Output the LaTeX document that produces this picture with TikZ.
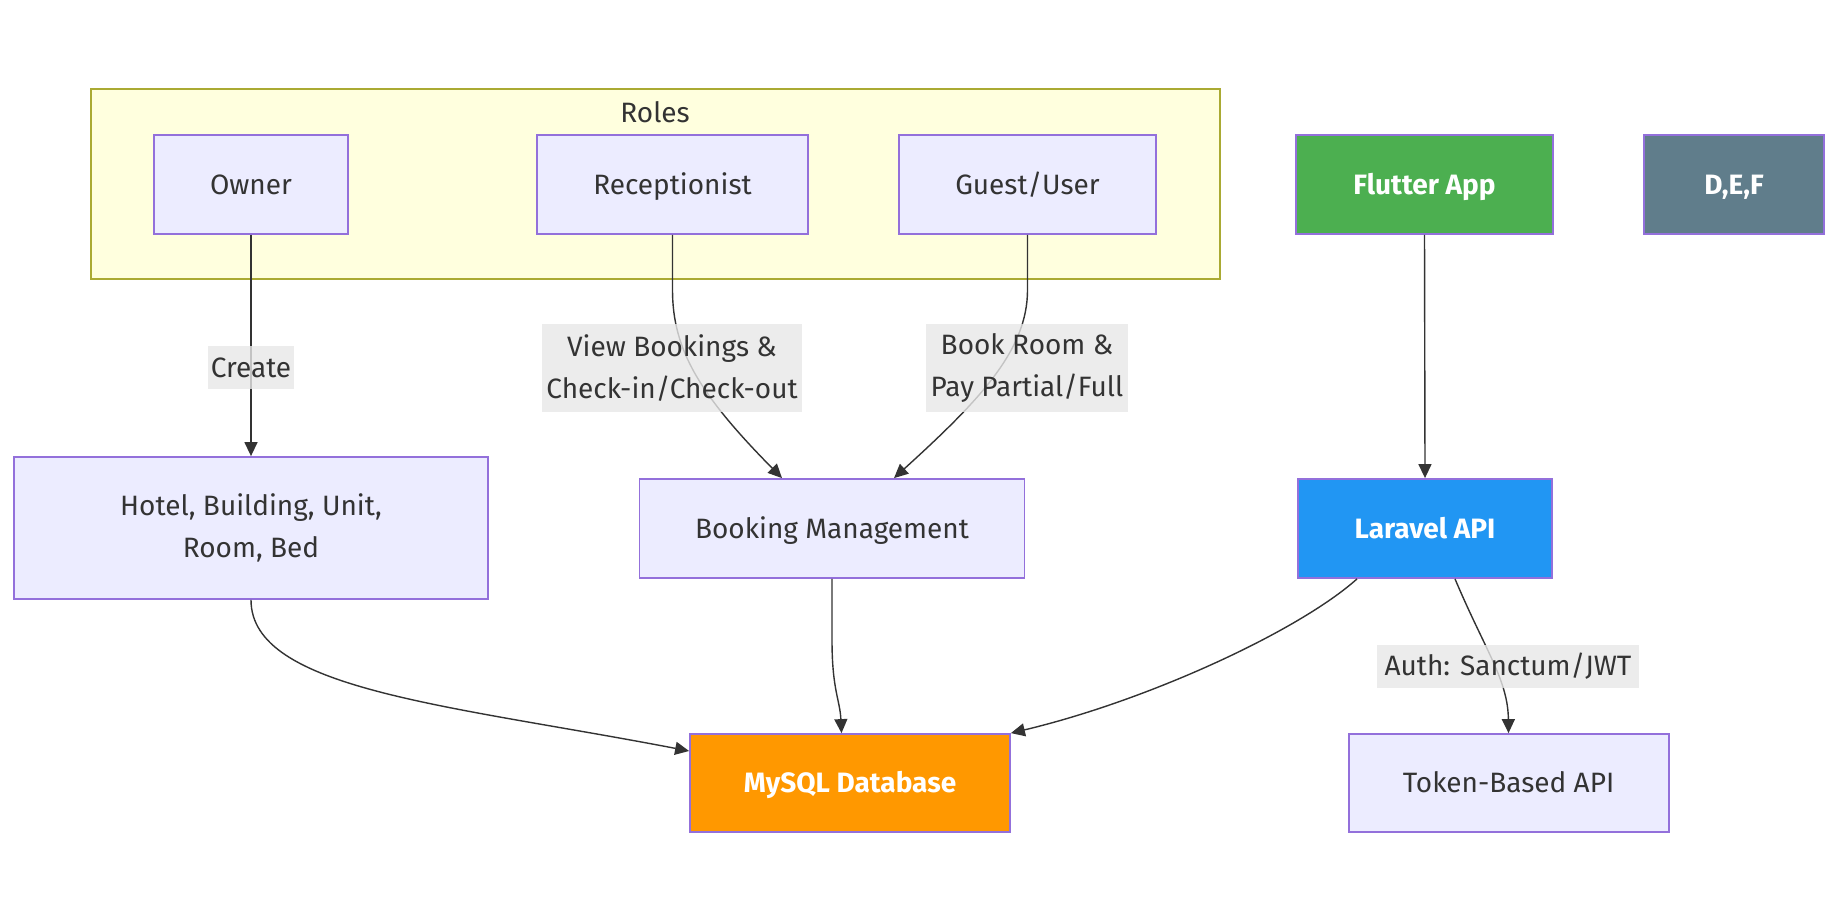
\documentclass[tikz,border=0pt]{standalone}
\usepackage{fontspec}
\setmainfont{Fira Sans}
\usetikzlibrary{arrows.meta}
\definecolor{nodefill}{HTML}{ECECFF}
\definecolor{nodeline}{HTML}{9370DB}
\definecolor{clusterfill}{HTML}{FFFFDE}
\definecolor{clusterline}{HTML}{AAAA33}
\definecolor{labelbg}{HTML}{E8E8E8}
\definecolor{txt}{HTML}{333333}
\definecolor{flutter}{HTML}{4CAF50}
\definecolor{laravel}{HTML}{2196F3}
\definecolor{mysql}{HTML}{FF9800}
\definecolor{defgrey}{HTML}{607D8B}
\newcommand{\fsz}{\fontsize{28}{42}\selectfont}
\tikzset{
  mbox/.style={draw=nodeline, fill=nodefill, line width=1.8pt, text=txt, inner sep=0pt, align=center, font=\fsz},
  box/.style={mbox, text height=22pt, text depth=2.5pt},
  colbox/.style={box, text=white, font=\fsz\bfseries},
  melabel/.style={fill=labelbg, fill opacity=0.8, text opacity=1, text=txt, inner sep=0pt, align=center, font=\fsz},
  elabel/.style={melabel, text height=22pt, text depth=2.5pt},
  edge/.style={draw=txt, line width=1.4pt, -{Triangle[length=14pt,width=13pt]}},
}
\begin{document}
\begin{tikzpicture}[x=1pt,y=-1pt]
\useasboundingbox (0,0) rectangle (1838,922);
\fill[white] (0,0) rectangle (1838,922);
% cluster
\draw[draw=clusterline, fill=clusterfill, line width=1.8pt] (90.8,89.3) rectangle (1220,278.7);
\node[text=txt, font=\fsz] (roleslbl) at (655,111.7) {Roles};
% nodes
\node[box, minimum width=194pt, minimum height=99pt] (owner) at (251,184.5) {Owner};
\node[box, minimum width=271pt, minimum height=99pt] (recep) at (672.5,184.5) {Receptionist};
\node[box, minimum width=257pt, minimum height=99pt] (guest) at (1027.5,184.5) {Guest/User};
\node[colbox, fill=flutter, minimum width=257pt, minimum height=99pt] (flutter) at (1424.5,184.5) {Flutter App};
\node[colbox, fill=defgrey, minimum width=180pt, minimum height=99pt] (def) at (1734,184.5) {D,E,F};
\node[mbox, minimum width=474pt, minimum height=142pt] (hotel) at (251,528) {Hotel, Building, Unit,\\Room, Bed};
\node[box, minimum width=385pt, minimum height=99pt] (booking) at (832,528.5) {Booking Management};
\node[colbox, fill=laravel, minimum width=254.4pt, minimum height=99pt] (laravel) at (1425,528.5) {Laravel API};
\node[colbox, fill=mysql, minimum width=320pt, minimum height=98pt] (mysql) at (850,783) {MySQL Database};
\node[box, minimum width=320pt, minimum height=98pt] (token) at (1508.6,783) {Token-Based API};
% coordinates
\coordinate (recepA) at (672.5,290);
\coordinate (guestA) at (1027.5,290);
\coordinate (bookA) at (832,640);
% edges
\draw[edge] (owner.south) -- (hotel.north);
\draw[edge] (recep.south) -- (recepA) .. controls (672.5,350) and (700,395) .. (booking.north -| 782,0);
\draw[edge] (guest.south) -- (guestA) .. controls (1027.5,350) and (980,400) .. (booking.north -| 894,0);
\draw[edge] (hotel.south) .. controls (251,690) and (450,705) .. (mysql.west |- 0,751);
\draw[edge] (booking.south) -- (bookA) .. controls (832,690) and (840,700) .. (mysql.north -| 841.5,0);
\draw[edge] (laravel.south -| 1357,0) .. controls (1300,630) and (1150,700) .. (mysql.north east);
\draw[edge] (laravel.south -| 1455,0) .. controls (1485,650) and (1508,680) .. (token.north -| 1508.5,0);
\draw[edge] (flutter.south) -- (laravel.north);
% edge labels
\node[elabel, minimum width=86.5pt, minimum height=43pt] (lcreate) at (251,367.5) {Create};
\node[melabel, minimum width=260pt, minimum height=88pt] (lview) at (672,368) {View Bookings \&\\Check-in/Check-out};
\node[melabel, minimum width=202pt, minimum height=88pt] (lbook) at (1027,368) {Book Room \&\\Pay Partial/Full};
\node[elabel, minimum width=262pt, minimum height=43pt] (lauth) at (1508,666) {Auth: Sanctum/JWT};
\end{tikzpicture}
\end{document}
